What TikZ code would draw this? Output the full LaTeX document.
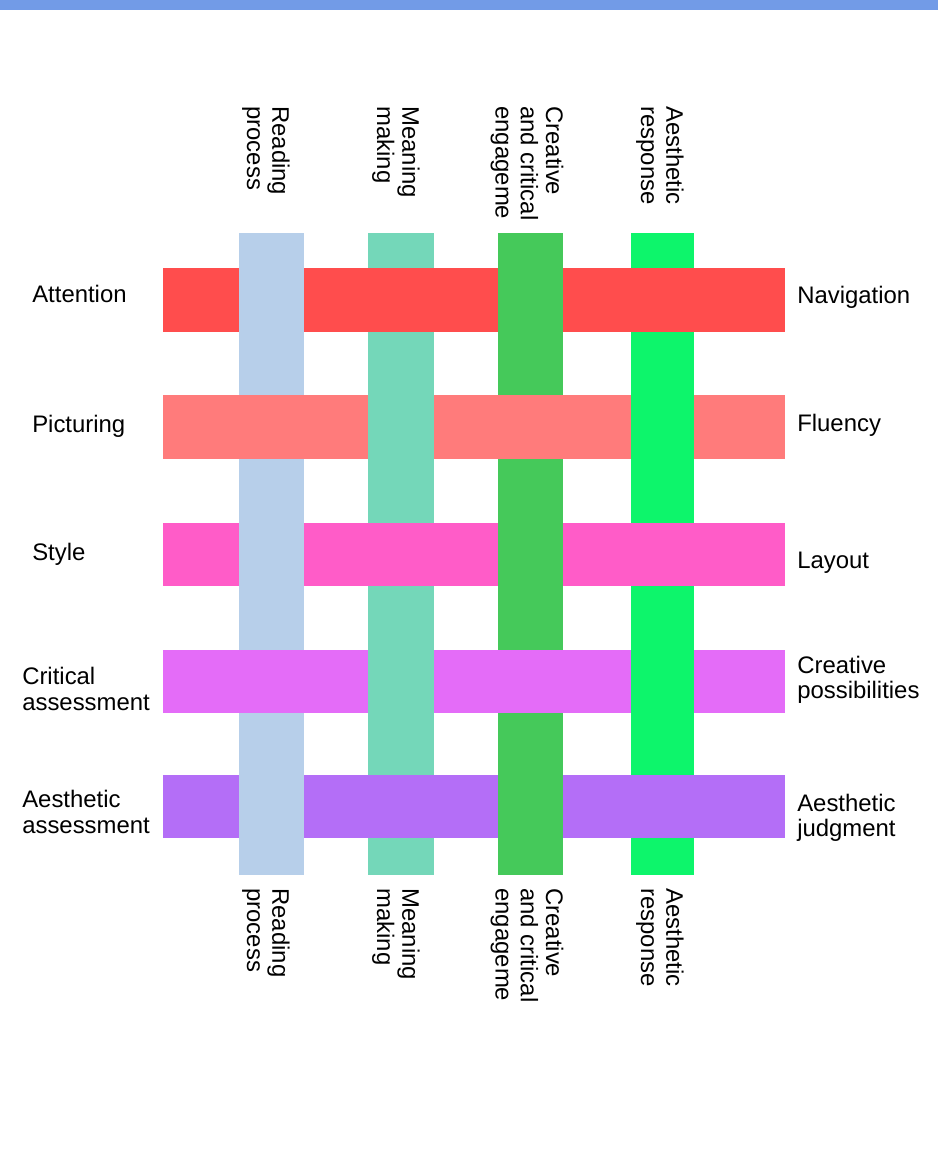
\documentclass[tikz,border=0pt]{standalone}
\usepackage{fontspec}
\setmainfont{Liberation Sans}
\definecolor{topbar}{HTML}{729BE7}
\definecolor{readc}{HTML}{B7CFEA}
\definecolor{meanc}{HTML}{74D7B9}
\definecolor{creac}{HTML}{45C95A}
\definecolor{aesrc}{HTML}{0DF56B}
\definecolor{attc}{HTML}{FF4D4D}
\definecolor{picc}{HTML}{FF7B7B}
\definecolor{stylc}{HTML}{FF5CC8}
\definecolor{critc}{HTML}{E46CF8}
\definecolor{aesac}{HTML}{B46EF7}
\tikzset{lbl/.style={font=\fontsize{17}{18}\selectfont, align=left, inner sep=0pt, anchor=west},
  vlbl/.style={lbl, rotate=-90}}
\begin{document}
\begin{tikzpicture}[x=0.25mm,y=-0.25mm]
\useasboundingbox (0,0) rectangle (938,1175);
\fill[topbar] (0,0) rectangle (938,10);
% vertical strips
\fill[readc] (239,233) rectangle (304,875);
\fill[meanc] (368,233) rectangle (434,875);
\fill[creac] (498,233) rectangle (563,875);
\fill[aesrc] (631,233) rectangle (694,875);
% horizontal strips
\fill[attc] (163,268) rectangle (785,332);
\fill[picc] (163,395) rectangle (785,459);
\fill[stylc] (163,523) rectangle (785,586);
\fill[critc] (163,650) rectangle (785,713);
\fill[aesac] (163,775) rectangle (785,838);
% weave: vertical strips on top
\fill[readc] (239,268) rectangle (304,332);
\fill[creac] (498,268) rectangle (563,332);
\fill[meanc] (368,395) rectangle (434,459);
\fill[aesrc] (631,395) rectangle (694,459);
\fill[readc] (239,523) rectangle (304,586);
\fill[creac] (498,523) rectangle (563,586);
\fill[meanc] (368,650) rectangle (434,713);
\fill[aesrc] (631,650) rectangle (694,713);
\fill[readc] (239,775) rectangle (304,838);
\fill[creac] (498,775) rectangle (563,838);
% left labels
\node[lbl] (attn) at (32,294) {Attention};
\node[lbl] (pict) at (32,426) {Picturing};
\node[lbl] (styl) at (32,554) {Style};
\node[lbl] (crit) at (22,689) {Critical\\assessment};
\node[lbl] (aesa) at (22,812) {Aesthetic\\assessment};
% right labels
\node[lbl] (navi) at (797,297) {Navigation};
\node[lbl] (flue) at (797,425) {Fluency};
\node[lbl] (layo) at (797,563) {Layout};
\node[lbl] (crea) at (797,680) {Creative\\possibilities};
\node[lbl] (aesj) at (797,818) {Aesthetic\\judgment};
% top labels
\node[vlbl] (readt) at (266,106) {Reading\\process};
\node[vlbl] (meant) at (396,106) {Meaning\\making};
\node[vlbl] (creat) at (527,106) {Creative\\and critical\\engageme};
\node[vlbl] (aesrt) at (660,106) {Aesthetic\\response};
% bottom labels
\node[vlbl] (readb) at (266,888) {Reading\\process};
\node[vlbl] (meanb) at (396,888) {Meaning\\making};
\node[vlbl] (creab) at (527,888) {Creative\\and critical\\engageme};
\node[vlbl] (aesrb) at (660,888) {Aesthetic\\response};
\end{tikzpicture}
\end{document}
